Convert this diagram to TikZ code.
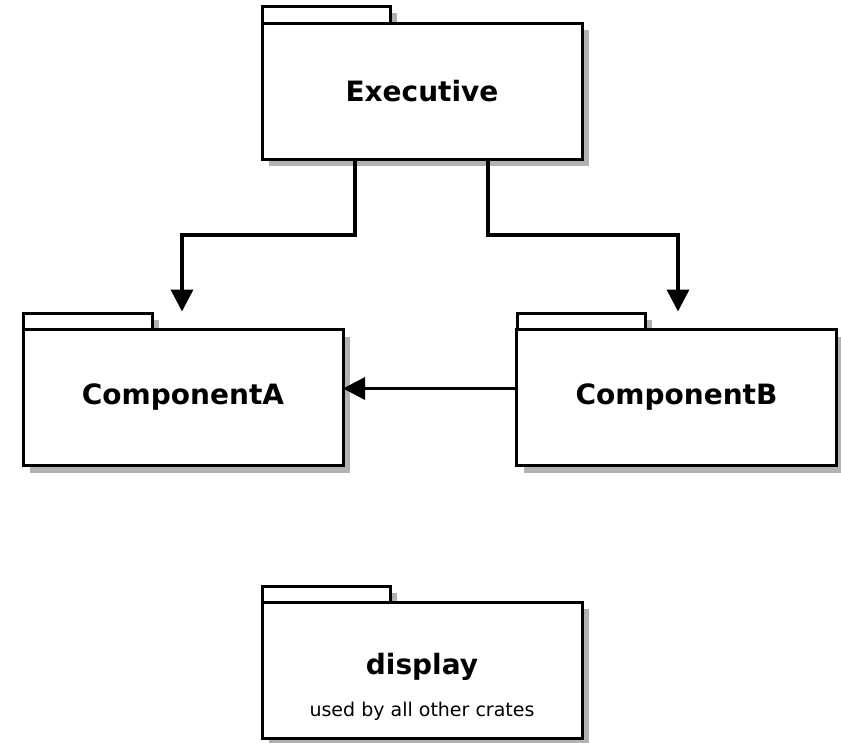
\documentclass[tikz,border=0pt]{standalone}
\usepackage{fontspec}
\setmainfont{DejaVu Sans}
\usetikzlibrary{arrows.meta,shadows}

\tikzset{
  shade/.style={drop shadow={shadow xshift=7pt, shadow yshift=-7pt, fill=black!30, opacity=1}},
  pkg/.style={draw, line width=3pt, fill=white, shade, outer sep=0pt, inner sep=0pt,
    minimum width=320pt, minimum height=136pt, font=\fontsize{28}{33}\selectfont\bfseries},
  pkgtab/.style={draw, line width=3pt, fill=white, shade},
  flow/.style={line width=3.5pt, -{Triangle[width=22pt,length=22pt]}}
}

\begin{document}
\begin{tikzpicture}[x=1pt, y=-1pt]
            \useasboundingbox (0,0) rectangle (841,742);
            % Tabs of the packages
            \draw[pkgtab] (262,23) rectangle (390,6);
            \draw[pkgtab] (23,330) rectangle (152,313);
            \draw[pkgtab] (517,330) rectangle (645,313);
            \draw[pkgtab] (262,602) rectangle (390,586);
            % Packages
            \node[pkg] (exec) at (422,91) {Executive};
            \node[pkg] (compA) at (183,397.5) {ComponentA};
            \node[pkg] (compB) at (676.5,397.5) {ComponentB};
            \node[pkg] (display) at (422,670) {};
            \node[font=\fontsize{28}{33}\selectfont\bfseries] (displayname) at (422,667) {display};
            \node[font=\fontsize{19}{23}\selectfont] (displaynote) at (422,711) {used by all other crates};
            % Dependencies
            \draw[flow] ([xshift=-67pt]exec.south) -- ++(0,76) -| ([xshift=-1pt, yshift=18pt]compA.north);
            \draw[flow] ([xshift=66pt]exec.south) -- ++(0,76) -| ([xshift=1.5pt, yshift=18pt]compB.north);
            \draw[flow] ([yshift=9pt]compB.west) -- ([yshift=9pt]compA.east);
        \end{tikzpicture}
\end{document}
